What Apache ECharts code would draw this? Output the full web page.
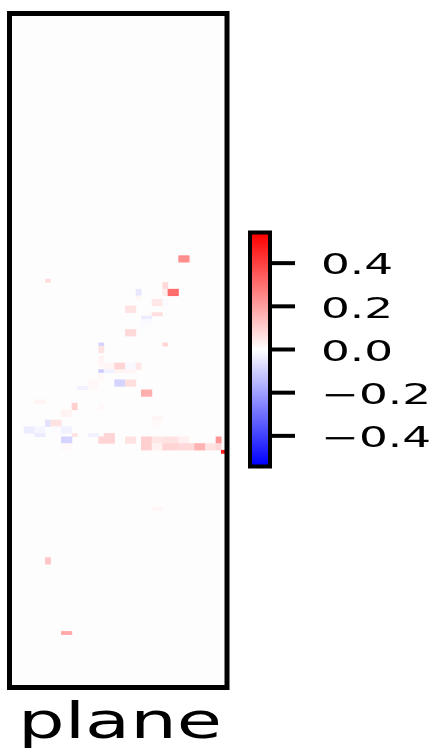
<!DOCTYPE html>
<html>
<head>
<meta charset="utf-8">
<script src="https://cdn.jsdelivr.net/npm/echarts@6/dist/echarts.min.js"></script>
<style>
  html, body { margin: 0; padding: 0; background: #fff; }
  #chart { width: 433px; height: 749px; }
</style>
</head>
<body>
<div id="chart"></div>
<script>
// matrix size (columns x rows)
const nCols = 40;
const nRows = 200;

// non-zero cells: [col, row, value]; everything else is ~0
const cells = [
  [31, 72, 0.24], [32, 72, 0.24], [31, 73, 0.24], [32, 73, 0.24],
  [6, 79, 0.07],
  [28, 80, 0.08], [28, 81, 0.08], [28, 82, 0.04], [28, 83, 0.04],
  [29, 82, 0.31], [30, 82, 0.31], [29, 83, 0.31], [30, 83, 0.31],
  [23, 82, -0.05], [23, 83, -0.05], [23, 84, 0.02],
  [26, 85, 0.05], [27, 85, 0.05], [26, 86, 0.05], [27, 86, 0.05],
  [28, 85, -0.01], [28, 86, -0.01],
  [21, 87, 0.06], [22, 87, 0.06], [21, 88, 0.06], [22, 88, 0.06],
  [26, 89, 0.07], [27, 89, 0.07],
  [24, 90, -0.04], [25, 90, -0.04],
  [24, 91, -0.01], [25, 91, -0.01], [24, 92, -0.01], [25, 92, -0.01],
  [21, 94, 0.08], [22, 94, 0.08], [21, 95, 0.08], [22, 95, 0.08],
  [16, 98, -0.09], [28, 98, 0.09],
  [16, 99, 0.06], [16, 100, 0.06],
  [16, 102, 0.025], [16, 103, 0.025],
  [16, 104, 0.015], [16, 105, 0.015],
  [17, 104, 0.02], [18, 104, 0.02], [17, 105, 0.02], [18, 105, 0.02],
  [19, 104, 0.09], [20, 104, 0.09], [19, 105, 0.09], [20, 105, 0.09],
  [21, 104, -0.015], [22, 104, -0.015], [21, 105, -0.015], [22, 105, -0.015],
  [23, 104, 0.05], [23, 105, 0.05],
  [16, 106, -0.11], [17, 106, -0.03], [18, 106, -0.03],
  [19, 106, 0.02], [20, 106, 0.02], [21, 106, 0.02], [22, 106, 0.02],
  [16, 107, 0.015], [16, 108, 0.015],
  [14, 109, 0.015], [15, 109, 0.015], [14, 110, 0.015], [15, 110, 0.015],
  [14, 111, 0.015], [15, 111, 0.015],
  [19, 109, -0.09], [20, 109, -0.09], [19, 110, -0.09], [20, 110, -0.09],
  [21, 109, 0.07], [22, 109, 0.07], [21, 110, 0.07], [22, 110, 0.07],
  [12, 111, -0.03], [13, 111, -0.03],
  [24, 112, 0.17], [25, 112, 0.17], [24, 113, 0.17], [25, 113, 0.17],
  [4, 115, 0.025], [5, 115, 0.025], [11, 115, -0.01],
  [11, 116, 0.1], [11, 117, 0.1],
  [16, 116, 0.015], [16, 117, 0.015],
  [9, 118, 0.025], [10, 118, 0.025], [9, 119, 0.025], [10, 119, 0.025],
  [26, 120, 0.025], [27, 120, 0.025],
  [26, 121, 0.01], [27, 121, 0.01], [26, 122, 0.01], [27, 122, 0.01],
  [6, 121, -0.06], [6, 122, -0.06],
  [7, 121, 0.06], [8, 121, 0.06], [7, 122, 0.06], [8, 122, 0.06],
  [2, 123, -0.04], [3, 123, -0.04], [2, 124, -0.04], [3, 124, -0.04],
  [4, 123, -0.02], [5, 123, -0.02], [4, 124, -0.02], [5, 124, -0.02],
  [7, 123, -0.01], [8, 123, -0.01], [7, 124, -0.01], [8, 124, -0.01],
  [9, 123, -0.03], [10, 123, -0.03], [9, 124, -0.03], [10, 124, -0.03],
  [4, 125, -0.04], [5, 125, -0.04], [11, 125, 0.06],
  [14, 125, -0.03], [15, 125, -0.03],
  [17, 125, 0.09], [18, 125, 0.09], [17, 126, 0.09], [18, 126, 0.09],
  [17, 127, 0.09], [18, 127, 0.09],
  [16, 126, 0.09], [16, 127, 0.09],
  [9, 126, -0.09], [10, 126, -0.09], [9, 127, -0.09], [10, 127, -0.09],
  [9, 128, 0.015], [10, 128, 0.015], [9, 129, 0.015], [10, 129, 0.015],
  [21, 126, 0.06], [22, 126, 0.06], [21, 127, 0.06], [22, 127, 0.06],
  [24, 126, 0.1], [25, 126, 0.1], [24, 127, 0.1], [25, 127, 0.1],
  [24, 128, 0.1], [25, 128, 0.1], [24, 129, 0.1], [25, 129, 0.1],
  [26, 126, 0.05], [27, 126, 0.05], [26, 127, 0.05], [27, 127, 0.05],
  [28, 126, 0.06], [29, 126, 0.06], [30, 126, 0.06],
  [28, 127, 0.06], [29, 127, 0.06], [30, 127, 0.06],
  [31, 126, 0.03], [32, 126, 0.03], [31, 127, 0.03], [32, 127, 0.03],
  [38, 126, 0.22], [38, 127, 0.22],
  [26, 128, 0.03], [27, 128, 0.03], [26, 129, 0.03], [27, 129, 0.03],
  [28, 128, 0.09], [29, 128, 0.09], [30, 128, 0.09],
  [28, 129, 0.09], [29, 129, 0.09], [30, 129, 0.09],
  [31, 128, 0.08], [32, 128, 0.08], [33, 128, 0.08],
  [31, 129, 0.08], [32, 129, 0.08], [33, 129, 0.08],
  [34, 128, 0.16], [35, 128, 0.16], [34, 129, 0.16], [35, 129, 0.16],
  [36, 128, 0.06], [37, 128, 0.06], [36, 129, 0.06], [37, 129, 0.06],
  [38, 128, 0.08], [38, 129, 0.08],
  [39, 130, 0.47],
  [26, 147, 0.02], [27, 147, 0.02],
  [6, 162, 0.12], [6, 163, 0.12],
  [9, 184, 0.18], [10, 184, 0.18]
];

// colour bar
const valueRange = [-0.535, 0.535];
const colorTicks = [0.4, 0.2, 0.0, -0.2, -0.4];
const colorTickLabels = ['0.4', '0.2', '0.0', '\u22120.2', '\u22120.4'];
const xLabel = 'plane';

const colIndex = Array.from({length: nCols}, (_, i) => i);
const rowIndex = Array.from({length: nRows}, (_, i) => i);

const chart = echarts.init(document.getElementById('chart'), null, {renderer: 'canvas'});

const option = {
  animation: false,
  backgroundColor: '#ffffff',
  grid: [
    {left: 13.3, top: 14, width: 213.3, height: 671, show: true, backgroundColor: '#fefdfd', borderWidth: 0},
    {left: 250, top: 234, width: 20, height: 231, show: false}
  ],
  xAxis: [
    {type: 'category', data: colIndex, gridIndex: 0, show: false},
    {type: 'value', gridIndex: 1, show: false}
  ],
  yAxis: [
    {type: 'category', data: rowIndex, gridIndex: 0, inverse: true, show: false},
    {
      type: 'value', gridIndex: 1, position: 'right',
      min: valueRange[0], max: valueRange[1],
      axisLine: {show: false},
      splitLine: {show: false},
      axisTick: {show: false},
      axisLabel: {show: false}
    }
  ],
  visualMap: {
    type: 'continuous',
    min: valueRange[0], max: valueRange[1],
    seriesIndex: 0,
    orient: 'vertical',
    left: 250, top: 234,
    itemWidth: 20, itemHeight: 231,
    padding: 0,
    calculable: false,
    hoverLink: false,
    inRange: {color: ['#0000ff', '#ffffff', '#ff0000']}
  },
  series: [{
    type: 'heatmap',
    xAxisIndex: 0, yAxisIndex: 0,
    data: cells,
    itemStyle: {borderWidth: 0},
    emphasis: {disabled: true}
  }]
};
chart.setOption(option);

// frames, colour bar ticks and labels (text is stretched wide like the reference)
const graphics = [
  {type: 'rect', z: 100, shape: {x: 9.5, y: 13.5, width: 217.5, height: 674}, style: {fill: 'none', stroke: '#000', lineWidth: 5}},
  {type: 'rect', z: 100, shape: {x: 250, y: 232.5, width: 20, height: 234}, style: {fill: 'none', stroke: '#000', lineWidth: 4}},
  {
    type: 'text', z: 100, x: 120, y: 725, scaleX: 1.5,
    style: {text: xLabel, font: '49px "DejaVu Sans"', fill: '#000', textAlign: 'center', textVerticalAlign: 'middle'}
  }
];
colorTicks.forEach((v, i) => {
  const py = chart.convertToPixel({yAxisIndex: 1}, v);
  graphics.push({
    type: 'line', z: 100, shape: {x1: 270, y1: py, x2: 295, y2: py}, style: {stroke: '#000', lineWidth: 4}
  });
  graphics.push({
    type: 'text', z: 100, x: 321, y: py + 4, scaleX: 1.62,
    style: {text: colorTickLabels[i], font: '28px "DejaVu Sans"', fill: '#000', textAlign: 'left', textVerticalAlign: 'middle'}
  });
});
chart.setOption({graphic: graphics});
</script>
</body>
</html>
